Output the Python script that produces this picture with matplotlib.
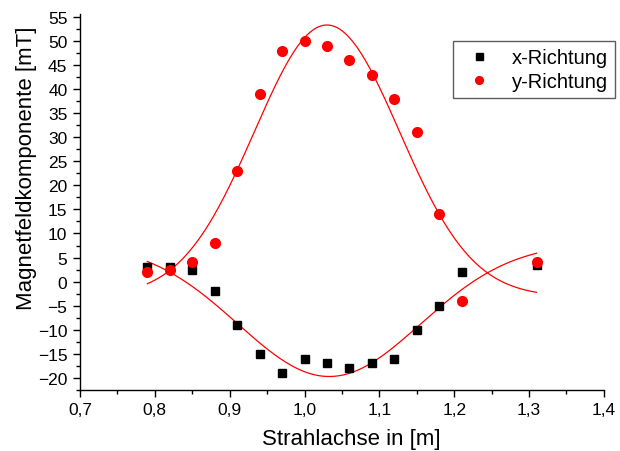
import matplotlib.pyplot as plt
import numpy as np
from matplotlib.ticker import MultipleLocator

plt.rcParams['font.family'] = ['Liberation Sans', 'DejaVu Sans']

# Messpunkte
pos = [0.79, 0.82, 0.85, 0.88, 0.91, 0.94, 0.97, 1.00, 1.03, 1.06, 1.09, 1.12, 1.15, 1.18, 1.21, 1.31]
bx = [3, 3, 2.5, -2, -9, -15, -19, -16, -17, -18, -17, -16, -10, -5, 2, 3.5]
by = [2, 2.5, 4, 8, 23, 39, 48, 50, 49, 46, 43, 38, 31, 14, -4, 4]

# Gauss-Fit Parameter (y0, A, xc, sigma)
fit_x = [8.0, -27.7, 1.033, 0.122]
fit_y = [-3.1, 56.4, 1.03, 0.0971]


def gauss(x, p):
    y0, a, xc, s = p
    return y0 + a * np.exp(-(x - xc) ** 2 / (2 * s ** 2))


fig = plt.figure(figsize=(6.2, 4.52), dpi=100)
ax = fig.add_axes([0.129, 0.135, 0.845, 0.832])

xs = np.linspace(pos[0], pos[-1], 300)
ax.plot(pos, bx, 's', color='black', markersize=6.3, label='x-Richtung', zorder=3)
ax.plot(pos, by, 'o', color='red', markersize=7, label='y-Richtung', zorder=3)
ax.plot(xs, gauss(xs, fit_x), color='red', lw=0.9, zorder=2)
ax.plot(xs, gauss(xs, fit_y), color='red', lw=0.9, zorder=2)

ax.set_xlim(0.7, 1.4)
ax.set_ylim(-22.5, 55.6)
ax.xaxis.set_major_locator(MultipleLocator(0.1))
ax.xaxis.set_minor_locator(MultipleLocator(0.05))
ax.yaxis.set_major_locator(MultipleLocator(5))
ax.yaxis.set_minor_locator(MultipleLocator(2.5))
ax.xaxis.set_major_formatter(plt.FuncFormatter(lambda v, p: ('%.1f' % v).replace('.', ',')))

for side in ['top', 'right']:
    ax.spines[side].set_visible(False)
for side in ['left', 'bottom']:
    ax.spines[side].set_linewidth(1.0)
ax.tick_params(which='major', direction='out', length=5, width=1, labelsize=12.5, pad=4)
ax.tick_params(which='minor', direction='out', length=3, width=1)

ax.set_xlabel('Strahlachse in [m]', fontsize=16, va='top')
ax.xaxis.set_label_coords(0.517, -0.101)
ax.set_ylabel('Magnetfeldkomponente [mT]', fontsize=16)
ax.yaxis.set_label_coords(-0.082, 0.593)

leg = ax.legend(loc='upper left', bbox_to_anchor=(453 / 620, 1 - 42 / 452),
                bbox_transform=fig.transFigure, fontsize=14.5, frameon=True,
                fancybox=False, edgecolor='#333333', handletextpad=0.69,
                borderpad=0.35, labelspacing=0.25, handlelength=1.9,
                borderaxespad=0, markerscale=0.8)
leg.get_frame().set_linewidth(1.0)

fig.savefig('out.png', dpi=100)
